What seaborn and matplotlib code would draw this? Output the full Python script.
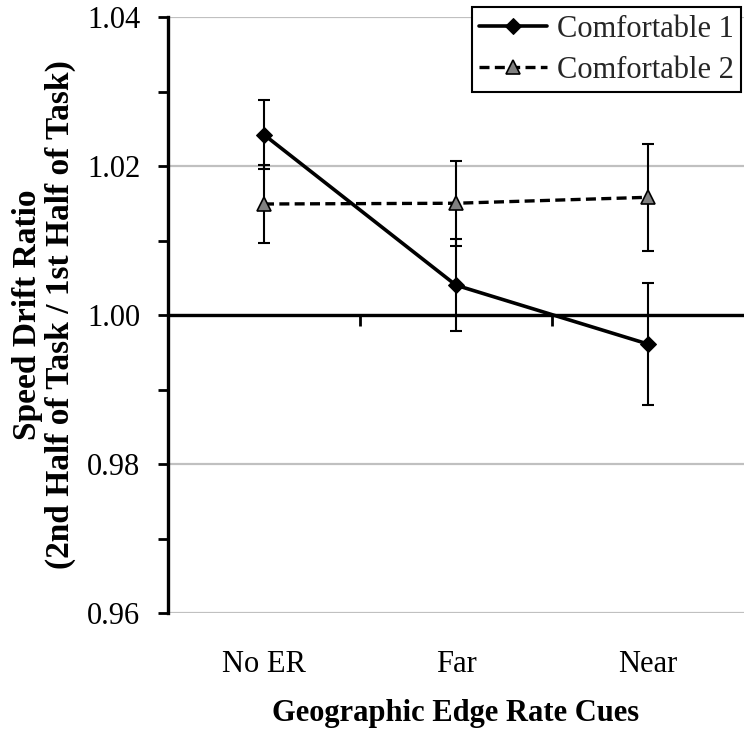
import matplotlib
matplotlib.use("Agg")
import matplotlib.pyplot as plt
import seaborn as sns
import pandas as pd
import numpy as np

# ---- data ----
categories = ["No ER", "Far", "Near"]
comf1_mean = [1.0242, 1.0040, 0.9961]
comf1_err = [0.0046, 0.0062, 0.0082]
comf2_mean = [1.0149, 1.0150, 1.0158]
comf2_err = [0.0053, 0.0057, 0.0072]
series_names = ["Comfortable 1", "Comfortable 2"]
y_ticks = [0.96, 0.98, 1.00, 1.02, 1.04]

sns.set_theme(style="white")
plt.rcParams["font.family"] = ["Liberation Serif", "DejaVu Serif"]

pos = np.arange(len(categories))
df1 = pd.DataFrame({"pos": pos, "ratio": comf1_mean, "err": comf1_err})
df2 = pd.DataFrame({"pos": pos, "ratio": comf2_mean, "err": comf2_err})

fig = plt.figure(figsize=(7.44, 7.40), dpi=100)
ax = fig.add_axes([168 / 744, 1 - 613 / 740, 576 / 744, 596 / 740])

# error bars
ax.errorbar(df1["pos"], df1["ratio"], yerr=df1["err"], fmt="none",
            ecolor="black", elinewidth=1.5, capsize=4.5, capthick=1.5, zorder=3)
ax.errorbar(df2["pos"], df2["ratio"], yerr=df2["err"], fmt="none",
            ecolor="black", elinewidth=1.5, capsize=4.5, capthick=1.5, zorder=3)

sns.lineplot(data=df1, x="pos", y="ratio", ax=ax, color="black", lw=2.6,
             marker="D", markersize=8, markerfacecolor="black",
             markeredgecolor="black", label=series_names[0], zorder=5)
sns.lineplot(data=df2, x="pos", y="ratio", ax=ax, color="black", lw=2.4,
             linestyle=(0, (3, 1.6)), marker="^", markersize=10,
             markerfacecolor="#808080", markeredgecolor="black",
             markeredgewidth=1.2, label=series_names[1], zorder=5)

ax.set_xlim(-0.5, 2.5)
ax.set_ylim(0.96, 1.04)

# y axis
ax.set_yticks(y_ticks)
ax.set_yticklabels([f"{v:.2f}" for v in y_ticks])
ax.set_yticks([0.97, 0.99, 1.01, 1.03], minor=True)
ax.tick_params(axis="y", which="both", direction="out", length=7, width=2,
               color="black", left=True, labelsize=22, pad=13, labelcolor="black")
ax.yaxis.grid(True, which="major", color="#c0c0c0", lw=1.6)
ax.set_axisbelow(True)

# x axis
ax.set_xticks(pos)
ax.set_xticklabels(categories)
ax.tick_params(axis="x", which="major", length=0, labelsize=22, pad=27,
               labelcolor="black")

for s in ["top", "right", "bottom"]:
    ax.spines[s].set_visible(False)
ax.spines["left"].set_color("black")
ax.spines["left"].set_linewidth(2.4)

ax.axhline(1.00, color="black", lw=2.4, zorder=2)
sec = ax.secondary_xaxis(0.5)
sec.set_xticks([0.5, 1.5])
sec.set_xticklabels([])
sec.xaxis.set_ticks_position("bottom")
sec.tick_params(axis="x", direction="out", length=8, width=2, color="black")
sec.spines["bottom"].set_visible(False)
sec.spines["top"].set_visible(False)

ax.set_xlabel("Geographic Edge Rate Cues", fontsize=22, fontweight="bold",
              color="black")
ax.xaxis.set_label_coords(0.5, -0.145)
ax.set_ylabel("Speed Drift Ratio\n(2nd Half of Task / 1st Half of Task)",
              fontsize=24, fontweight="bold", color="black", va="center",
              linespacing=1.05)
ax.yaxis.set_label_coords(-0.215, 0.5)

leg = ax.legend(loc="upper right", bbox_to_anchor=(0.995, 1.017),
                borderaxespad=0, fontsize=22, frameon=True, fancybox=False,
                edgecolor="black", handlelength=2.2, handletextpad=0.33,
                labelspacing=0.4, borderpad=0.25)
leg.get_frame().set_linewidth(1.5)
leg.get_frame().set_alpha(1)
leg.set_zorder(10)

fig.savefig("out.png", dpi=100)
